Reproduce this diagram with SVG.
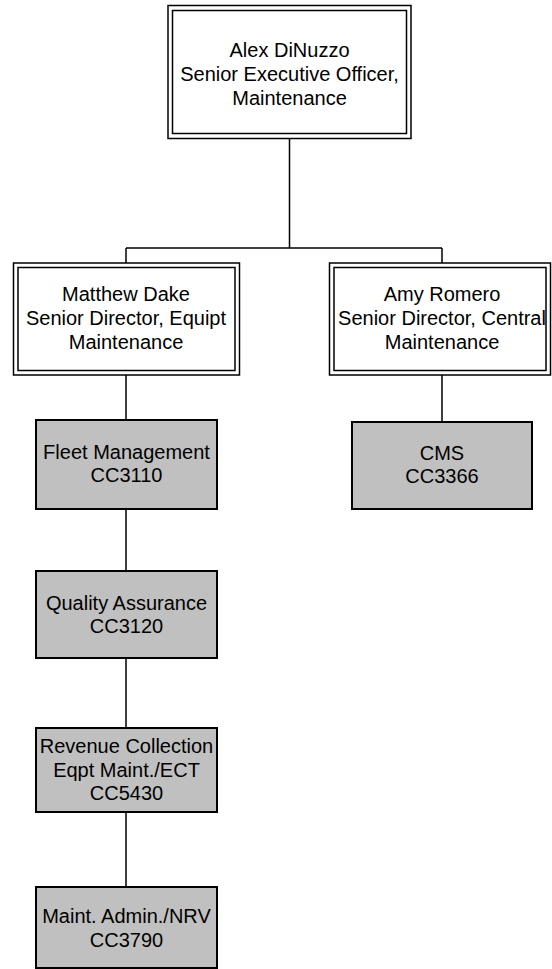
<svg xmlns="http://www.w3.org/2000/svg" width="552" height="969" viewBox="0 0 552 969">
<style>
.o{fill:#fff;stroke:#000;stroke-width:1.5}
.i{fill:none;stroke:#000;stroke-width:1.5}
.g{fill:#c0c0c0;stroke:#000;stroke-width:2}
.c{fill:none;stroke:#000;stroke-width:1.5}
text{font-family:"Liberation Sans",Arial,sans-serif;font-size:20px;fill:#000;text-anchor:middle}
</style>
<rect width="552" height="969" fill="#fff"/>
<g id="connectors">
<path class="c" d="M289.5 138V248M126 248H442M126 248V263M442 248V263"/>
<path class="c" d="M126 375V420M126 509V571M126 658V728M126 812V887M442 375V422"/>
</g>
<g id="n-alex">
<rect class="o" x="168" y="5.5" width="243" height="133"/>
<rect class="i" x="172.5" y="10.5" width="234" height="123"/>
<text x="289.5" y="57">Alex DiNuzzo</text>
<text x="289.5" y="81">Senior Executive Officer,</text>
<text x="289.5" y="105">Maintenance</text>
</g>
<g id="n-matthew">
<rect class="o" x="13.5" y="263" width="226" height="112"/>
<rect class="i" x="18" y="267.5" width="217" height="103"/>
<text x="126" y="301">Matthew Dake</text>
<text x="126" y="325">Senior Director, Equipt</text>
<text x="126" y="349">Maintenance</text>
</g>
<g id="n-amy">
<rect class="o" x="329.5" y="263" width="221" height="112"/>
<rect class="i" x="334" y="267.5" width="212" height="103"/>
<text x="442" y="301">Amy Romero</text>
<text x="442" y="325">Senior Director, Central</text>
<text x="442" y="349">Maintenance</text>
</g>
<g id="n-fleet">
<rect class="g" x="36" y="420" width="181" height="89"/>
<text x="126.5" y="459">Fleet Management</text>
<text x="126.5" y="482">CC3110</text>
</g>
<g id="n-quality">
<rect class="g" x="36" y="571" width="181" height="87"/>
<text x="126.5" y="610">Quality Assurance</text>
<text x="126.5" y="633">CC3120</text>
</g>
<g id="n-revenue">
<rect class="g" x="36" y="728" width="181" height="84"/>
<text x="126.5" y="753">Revenue Collection</text>
<text x="126.5" y="777">Eqpt Maint./ECT</text>
<text x="126.5" y="800">CC5430</text>
</g>
<g id="n-admin">
<rect class="g" x="36" y="887" width="181" height="81"/>
<text x="126.5" y="923">Maint. Admin./NRV</text>
<text x="126.5" y="947">CC3790</text>
</g>
<g id="n-cms">
<rect class="g" x="352" y="422" width="180" height="87"/>
<text x="442" y="460">CMS</text>
<text x="442" y="483">CC3366</text>
</g>
</svg>
